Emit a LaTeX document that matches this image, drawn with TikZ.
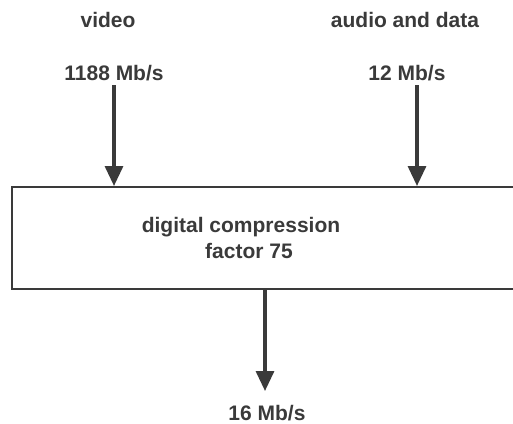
\documentclass[tikz,border=0pt]{standalone}
\usepackage{fontspec}
\setmainfont{Liberation Sans}
\usetikzlibrary{arrows.meta}
\definecolor{ink}{HTML}{3A3A3A}
\begin{document}
\begin{tikzpicture}[x=1pt,y=-1pt,
  lbl/.style={text=ink,font=\bfseries\fontsize{21}{25}\selectfont,inner sep=0pt,anchor=base},
  flow/.style={draw=ink,line width=3.2pt,-{Triangle[length=20pt,width=18pt]}}]
\useasboundingbox (0,0) rectangle (513,423);
\node[draw=ink,line width=2pt,minimum width=520pt,minimum height=102pt,anchor=north west,inner sep=0pt] (box) at (11,186) {};
\node[lbl] (video) at (108,27) {video};
\node[lbl] (audio) at (405,27) {audio and data};
\node[lbl] (vrate) at (114,80) {1188 Mb/s};
\node[lbl] (arate) at (407,80) {12 Mb/s};
\node[lbl] (comp) at (241,232) {digital compression};
\node[lbl] (fact) at (249,258) {factor 75};
\node[lbl] (out) at (267,420) {16 Mb/s};
\coordinate (vin) at (114,186);
\coordinate (ain) at (417,186);
\coordinate (vtop) at (114,85);
\coordinate (atop) at (417,85);
\coordinate (obot) at (265,288);
\coordinate (oend) at (265,391);
\draw[flow] (vtop) -- (vin);
\draw[flow] (atop) -- (ain);
\draw[flow] (obot) -- (oend);
\end{tikzpicture}
\end{document}
